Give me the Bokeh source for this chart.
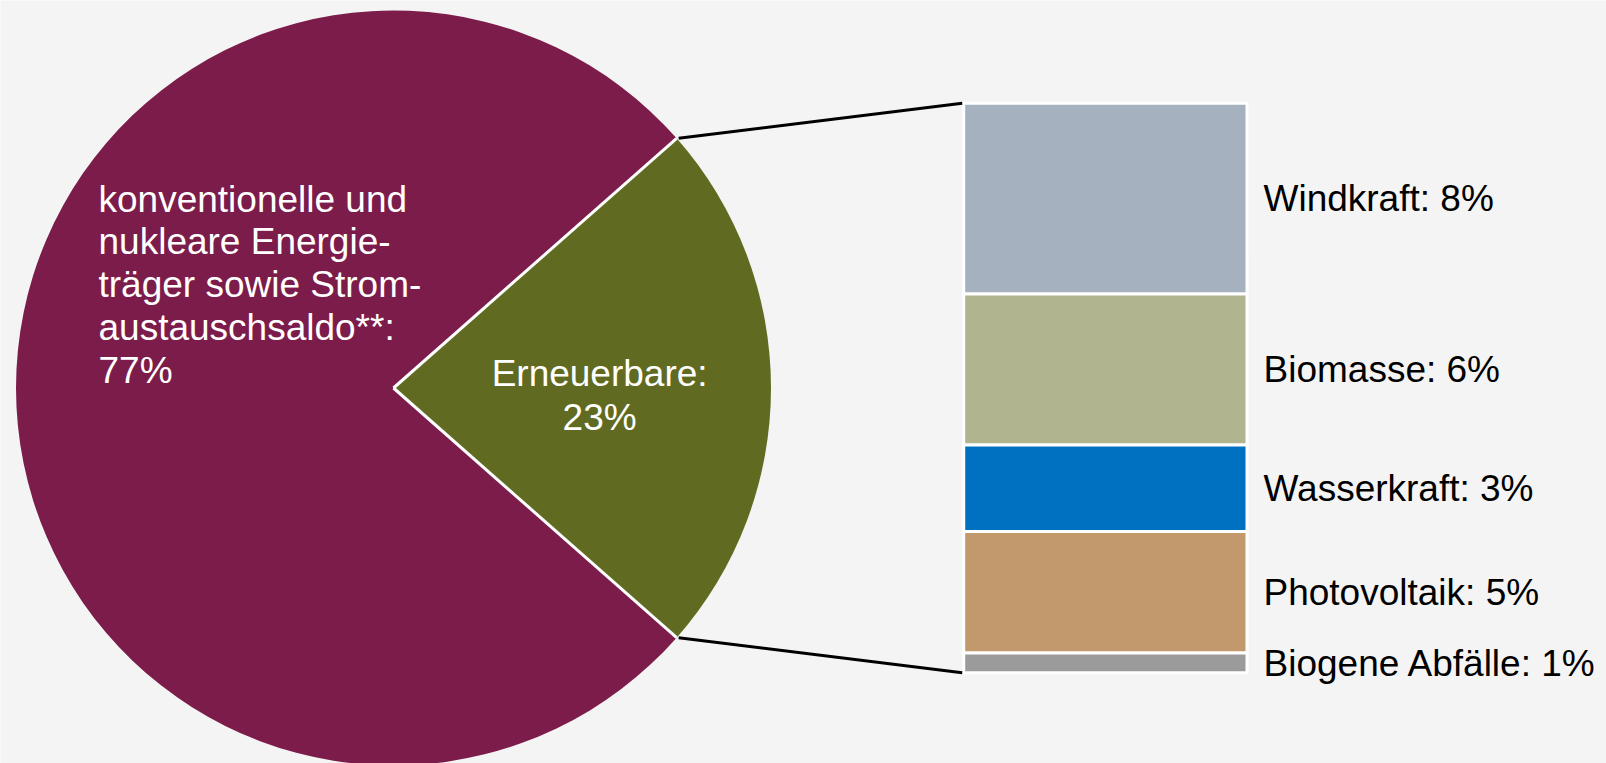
import math
from bokeh.plotting import figure
from bokeh.models import Range1d, ColumnDataSource
from bokeh.core.properties import value
from bokeh.embed import file_html
from bokeh.resources import INLINE

# ---------------- data ----------------
pie_names = ["konventionelle und nukleare Energieträger sowie Stromaustauschsaldo**", "Erneuerbare"]
pie_values = [77, 23]
pie_colors = ["#7c1c4a", "#606b21"]
pie_label_lines = ["konventionelle und", "nukleare Energie-", "träger sowie Strom-", "austauschsaldo**:", "77%"]
renew_label_lines = ["Erneuerbare:", "23%"]

bar_names = ["Windkraft", "Biomasse", "Wasserkraft", "Photovoltaik", "Biogene Abfälle"]
bar_values = [7.7, 6.1, 3.5, 4.9, 0.8]
bar_labels = ["Windkraft: 8%", "Biomasse: 6%", "Wasserkraft: 3%", "Photovoltaik: 5%", "Biogene Abfälle: 1%"]
bar_colors = ["#a6b1bf", "#b0b58f", "#0070c0", "#c2986d", "#9b9b9b"]

# ---------------- layout ----------------
W, H = 1606, 763          # reference pixel space
BG = "#f4f4f4"
FONT = "Liberation Sans"
FS = 37
TXT_FIX = -13             # baseline correction (screen px)

def Y(py):                # reference pixel row -> data y
    return H - py

p = figure(width=W, height=H, output_backend="svg", toolbar_location=None,
           x_range=Range1d(0, W), y_range=Range1d(0, H),
           min_border=0, min_border_left=0, min_border_right=0,
           min_border_top=0, min_border_bottom=0)
p.xaxis.visible = False
p.yaxis.visible = False
p.grid.visible = False
p.outline_line_color = None
p.background_fill_color = BG
p.border_fill_color = BG

# ---------------- pie ----------------
cx, cy, r = 393.0, Y(387.5), 377.5
total_pie = sum(pie_values)
renew_angle = 2 * math.pi * pie_values[1] / total_pie
starts = [renew_angle / 2, -renew_angle / 2]
ends = [2 * math.pi - renew_angle / 2, renew_angle / 2]
p.wedge(x=[cx, cx], y=[cy, cy], radius=r, start_angle=starts, end_angle=ends,
        fill_color=pie_colors, line_color=None)

ex = cx + r * math.cos(renew_angle / 2)
ey_up = cy + r * math.sin(renew_angle / 2)
ey_dn = cy - r * math.sin(renew_angle / 2)
# white separators between slices
p.segment(x0=[cx, cx], y0=[cy, cy], x1=[ex, ex], y1=[ey_up, ey_dn],
          line_color="white", line_width=3)

# ---------------- bar ----------------
bar_top_px, bar_bot_px = 102.8, 672.2
bar_left, bar_right = 963.2, 1246.5
bar_total = sum(bar_values)
unit = (bar_bot_px - bar_top_px) / bar_total
y0 = Y(bar_bot_px)
p.extra_y_ranges = {"bar": Range1d((0 - y0) / unit, (H - y0) / unit)}

tops, bottoms = [], []
acc = 0.0
for v in reversed(bar_values):
    bottoms.insert(0, acc)
    acc += v
    tops.insert(0, acc)
src = ColumnDataSource(dict(bottom=bottoms, top=tops, color=bar_colors,
                            mid=[(a + b) / 2 for a, b in zip(bottoms, tops)],
                            label=bar_labels))
p.quad(left=bar_left, right=bar_right, bottom="bottom", top="top", fill_color="color",
       line_color="white", line_width=3, source=src, y_range_name="bar")
p.text(x=1263, y="mid", text="label", source=src, y_range_name="bar",
       text_font=value(FONT), text_font_size=f"{FS}px", text_color="#000000",
       text_baseline="alphabetic", text_align="left", y_offset=0.358 * FS + TXT_FIX)

# ---------------- connector lines ----------------
p.segment(x0=[ex + 2, ex + 2], y0=[ey_up, ey_dn],
          x1=[bar_left - 1.5, bar_left - 1.5],
          y1=[y0 + bar_total * unit, y0],
          line_color="black", line_width=3)

# ---------------- pie labels ----------------
step = 42.8
p.text(x=[98] * len(pie_label_lines),
       y=[Y(211.5 + i * step) for i in range(len(pie_label_lines))],
       text=pie_label_lines, text_font=value(FONT), text_font_size=f"{FS}px",
       text_color="white", text_baseline="alphabetic", text_align="left", y_offset=TXT_FIX)
p.text(x=[cx + 0.546 * r] * len(renew_label_lines),
       y=[Y(386 + i * 44) for i in range(len(renew_label_lines))],
       text=renew_label_lines, text_font=value(FONT), text_font_size=f"{FS}px",
       text_color="white", text_baseline="alphabetic", text_align="center", y_offset=TXT_FIX)

open("out.html", "w").write(file_html(p, INLINE))
